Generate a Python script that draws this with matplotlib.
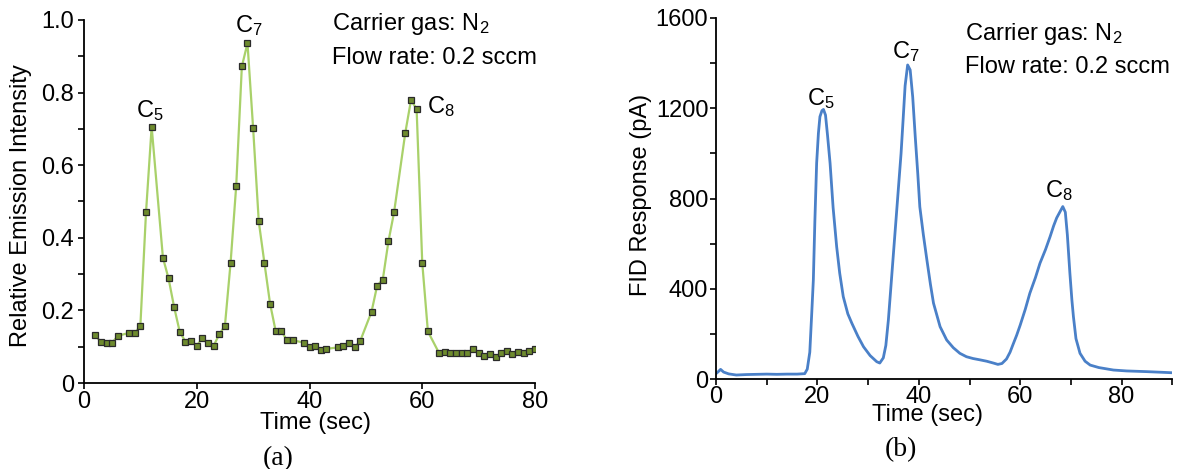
import numpy as np
import matplotlib
matplotlib.use("Agg")
import matplotlib.pyplot as plt
from matplotlib.ticker import MultipleLocator, FixedLocator, FuncFormatter

# (a) optical emission, one sample per second
time_a = [2, 3, 4, 5, 6, 8, 9, 10, 11, 12, 14, 15, 16, 17, 18, 19, 20, 21, 22, 23,
          24, 25, 26, 27, 28, 29, 30, 31, 32, 33, 34, 35, 36, 37, 39, 40, 41, 42, 43,
          45, 46, 47, 48, 49, 51, 52, 53, 54, 55, 57, 58, 59, 60, 61, 63, 64, 65, 66,
          67, 68, 69, 70, 71, 72, 73, 74, 75, 76, 77, 78, 79, 80]
emission_a = [0.131, 0.113, 0.109, 0.111, 0.130, 0.138, 0.137, 0.158, 0.470, 0.706,
              0.345, 0.288, 0.208, 0.140, 0.114, 0.116, 0.103, 0.123, 0.109, 0.103,
              0.134, 0.158, 0.331, 0.543, 0.872, 0.936, 0.702, 0.445, 0.331, 0.219,
              0.143, 0.143, 0.118, 0.118, 0.111, 0.099, 0.101, 0.091, 0.094,
              0.098, 0.101, 0.110, 0.098, 0.116, 0.196, 0.268, 0.285, 0.390, 0.470,
              0.690, 0.779, 0.755, 0.331, 0.142, 0.082, 0.086, 0.083, 0.084,
              0.084, 0.083, 0.094, 0.082, 0.074, 0.081, 0.073, 0.082, 0.087, 0.081,
              0.085, 0.083, 0.089, 0.094]

# (b) FID trace
time_b = [0, 0.5, 0.9, 1.5, 2.5, 4, 6, 8, 10, 12, 14, 16, 17.5, 18.0, 18.5, 18.9,
          19.2, 19.5, 19.85, 20.2, 20.5, 20.9, 21.2, 21.6, 22.0, 22.5, 23.1, 23.8,
          24.4, 25.1, 26.0, 26.8, 28.0, 29.1, 30.4, 31.7, 32.3, 33.0, 33.5, 34.0,
          34.5, 35.0, 35.5, 36.0, 36.5, 36.9, 37.3, 37.8, 38.3, 38.8, 39.3, 39.8,
          40.2, 40.9, 41.6, 42.3, 42.9, 44.2, 45.5, 46.8, 48.1, 49.4, 50.7, 52.1,
          53.4, 54.7, 55.6, 56.4, 57.3, 58.0, 58.6, 59.3, 60.0, 61.0, 61.9, 63.0,
          63.9, 65.0, 65.9, 66.6, 67.2, 67.8, 68.4, 68.9, 69.3, 69.8, 70.2, 70.5,
          71.0, 71.8, 72.8, 73.8, 75.5, 78.4, 81, 84.9, 88, 90]
fid_b = [25, 35, 44, 32, 24, 19, 21, 22, 23, 22, 23, 23, 25, 45, 120, 300,
         440, 700, 957, 1090, 1163, 1190, 1195, 1170, 1080, 957, 760, 587,
         470, 366, 290, 248, 190, 144, 105, 78, 72, 95, 150, 263,
         410, 558, 705, 853, 1000, 1148, 1300, 1392, 1370, 1250, 1074, 910,
         764, 640, 528, 420, 337, 233, 174, 140, 115, 100, 92, 86,
         80, 72, 66, 70, 90, 120, 155, 195, 240, 310, 381, 450,
         514, 575, 632, 680, 715, 740, 765, 740, 640, 470, 350, 277,
         180, 115, 80, 63, 52, 41, 37, 34, 31, 29]

peaks_a = [("C$_5$", 11.7, 0.733), ("C$_7$", 29.3, 0.966), ("C$_8$", 63.3, 0.743)]
peaks_b = [("C$_5$", 20.6, 1215), ("C$_7$", 37.4, 1422), ("C$_8$", 67.6, 809)]

plt.rcParams['font.family'] = ['Liberation Sans', 'DejaVu Sans']
plt.rcParams['mathtext.fontset'] = 'custom'
plt.rcParams['mathtext.rm'] = 'Liberation Sans'
plt.rcParams['mathtext.it'] = 'Liberation Sans:italic'
FS = 17

W, H = 1177, 469
fig = plt.figure(figsize=(W / 100, H / 100), dpi=100)


def px_text(x, y, s, **kw):
    fig.text(x / W, 1 - y / H, s, **kw)


def style_axes(ax):
    for side in ("top", "right"):
        ax.spines[side].set_visible(False)
    for side in ("left", "bottom"):
        ax.spines[side].set_linewidth(1.3)
    ax.tick_params(which="both", direction="out", length=4, width=1.2,
                   labelsize=FS, colors="black")


# ---- panel (a)
ax1 = fig.add_axes([84 / W, 1 - 383 / H, 451 / W, 363 / H])
ax1.plot(time_a, emission_a, color="#a9d16a", lw=1.6, zorder=2)
ax1.plot(time_a, emission_a, ls="none", marker="s", ms=4.4, mfc="#6e8b2e",
         mec="#2a2a2a", mew=0.9, zorder=3)
ax1.set_xlim(0, 80)
ax1.set_ylim(0, 1.0)
ax1.xaxis.set_major_locator(MultipleLocator(20))
ax1.yaxis.set_major_locator(MultipleLocator(0.2))
ax1.yaxis.set_minor_locator(MultipleLocator(0.1))
ax1.yaxis.set_major_formatter(FuncFormatter(lambda v, p: "0" if v == 0 else f"{v:.1f}"))
style_axes(ax1)
ax1.tick_params(axis="x", pad=2)
ax1.tick_params(axis="y", pad=3)
for lab, x, y in peaks_a:
    ax1.text(x, y, lab, ha="center", va="baseline", fontsize=FS)
ax1.text(44.0, 0.972, "Carrier gas: N$_2$", fontsize=FS, va="baseline")
ax1.text(44.0, 0.879, "Flow rate: 0.2 sccm", fontsize=FS, va="baseline")

# ---- panel (b)
ax2 = fig.add_axes([716 / W, 1 - 379.3 / H, 456.3 / W, 361.3 / H])
ax2.plot(time_b, fid_b, color="#4a80c8", lw=2.0)
ax2.set_xlim(0, 90)
ax2.set_ylim(0, 1600)
ax2.xaxis.set_major_locator(FixedLocator([0, 20, 40, 60, 80]))
ax2.xaxis.set_minor_locator(MultipleLocator(10))
ax2.yaxis.set_major_locator(MultipleLocator(400))
ax2.yaxis.set_minor_locator(MultipleLocator(200))
style_axes(ax2)
ax2.tick_params(axis="x", pad=0.5)
ax2.tick_params(axis="y", pad=1.5)
for lab, x, y in peaks_b:
    ax2.text(x, y, lab, ha="center", va="baseline", fontsize=FS)
ax2.text(49.1, 1503, "Carrier gas: N$_2$", fontsize=FS, va="baseline")
ax2.text(49.1, 1358, "Flow rate: 0.2 sccm", fontsize=FS, va="baseline")

# axis titles and panel letters
px_text(316, 429, "Time (sec)", ha="center", va="baseline", fontsize=FS)
px_text(21, 206, "Relative Emission Intensity", ha="center", va="center",
        rotation=90, fontsize=FS)
px_text(278, 465, "(a)", ha="center", va="baseline", fontsize=20, family="Liberation Serif")

px_text(927, 421, "Time (sec)", ha="center", va="baseline", fontsize=FS)
px_text(641, 195, "FID Response (pA)", ha="center", va="center",
        rotation=90, fontsize=FS)
px_text(901, 456, "(b)", ha="center", va="baseline", fontsize=20, family="Liberation Serif")

fig.savefig("out.png", dpi=100)
